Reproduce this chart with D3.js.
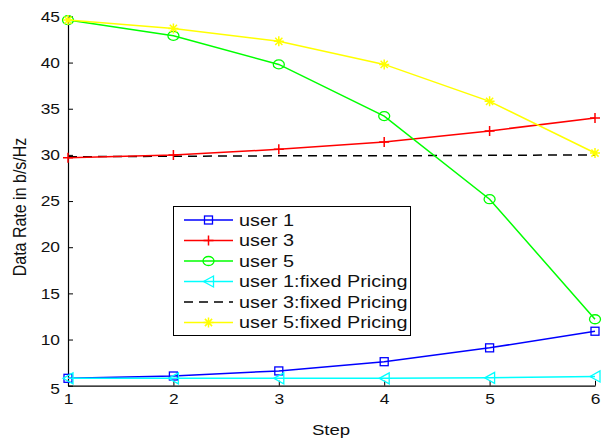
<!DOCTYPE html>
<html>
<head>
<meta charset="utf-8">
<script src="https://cdn.jsdelivr.net/npm/d3@7"></script>
<style>
body{margin:0;background:#fff;}
svg{display:block;font-family:"Liberation Sans",Arial,sans-serif;}
</style>
</head>
<body>
<svg id="chart" width="603" height="442"></svg>
<script>
const steps = [1, 2, 3, 4, 5, 6];
const user1 = [5.8, 6.05, 6.6, 7.6, 9.1, 10.9];
const user3 = [29.7, 30.0, 30.6, 31.4, 32.6, 34.0];
const user5 = [44.6, 42.9, 39.8, 34.2, 25.2, 12.2];
const user1Fixed = [5.8, 5.8, 5.8, 5.8, 5.85, 6.0];
const user3Fixed = [29.8, 29.85, 29.9, 29.9, 29.95, 30.0];
const user5Fixed = [44.6, 43.7, 42.3, 39.8, 35.8, 30.2];
const yTicks = [5, 10, 15, 20, 25, 30, 35, 40, 45];
const seriesNames = ["user 1", "user 3", "user 5", "user 1:fixed Pricing", "user 3:fixed Pricing", "user 5:fixed Pricing"];
const seriesColors = ["#0000ff", "#ff0000", "#00ff00", "#00ffff", "#000000", "#ffff00"];
const seriesMarkers = ["square", "plus", "circle", "triangleLeft", "none", "star"];
const seriesValues = [user1, user3, user5, user1Fixed, user3Fixed, user5Fixed];

const SX = 1.2; // horizontal stretch of glyphs seen in the reference

const svg = d3.select("#chart");
const x = d3.scaleLinear().domain([1, 6]).range([68, 595]);
const y = d3.scaleLinear().domain([5, 45]).range([385.7, 16.4]);

// axes
const xAxis = d3.axisBottom(x).tickValues(steps).tickFormat(d3.format("d")).tickSizeInner(-5).tickSizeOuter(0).tickPadding(6);
const yAxis = d3.axisLeft(y).tickValues(yTicks).tickFormat(d3.format("d")).tickSizeInner(-5).tickSizeOuter(0).tickPadding(8);

const gx = svg.append("g").attr("transform", "translate(0,385.7)").call(xAxis);
const gy = svg.append("g").attr("transform", "translate(68,0)").call(yAxis);
[gx, gy].forEach(g => {
  g.select(".domain").attr("stroke", "#000").attr("stroke-width", 1.2);
  g.selectAll(".tick line").attr("stroke", "#000").attr("stroke-width", 1);
  g.selectAll(".tick text").attr("font-size", 14.5).attr("fill", "#111").attr("font-family", "Liberation Sans, Arial, sans-serif");
});
gx.selectAll(".tick text").attr("dy", "0.85em").attr("transform", `scale(${SX},1)`);
gy.selectAll(".tick text").attr("transform", function() {
  const tx = +d3.select(this).attr("x");
  return `translate(${tx},0) scale(${SX},1) translate(${-tx},0)`;
});
gy.selectAll(".tick").filter(d => d === 5).select("text").attr("dy", "0.55em");

// labels
svg.append("text").attr("transform", `translate(331,435) scale(${SX},1)`).attr("text-anchor", "middle")
  .attr("font-size", 15.5).attr("fill", "#111").text("Step");
svg.append("text").attr("transform", `translate(26,207) rotate(-90) scale(1,${SX})`).attr("text-anchor", "middle")
  .attr("font-size", 16).attr("fill", "#111").text("Data Rate in b/s/Hz");

function drawMarker(g, type, color) {
  if (type === "square") {
    g.append("rect").attr("x", -4).attr("y", -4).attr("width", 8).attr("height", 8)
      .attr("fill", "none").attr("stroke", color).attr("stroke-width", 1.3);
  } else if (type === "plus") {
    g.append("path").attr("d", "M-5,0H5M0,-5V5").attr("stroke", color).attr("stroke-width", 1.5).attr("fill", "none");
  } else if (type === "circle") {
    g.append("ellipse").attr("rx", 5.5).attr("ry", 4.5).attr("fill", "none").attr("stroke", color).attr("stroke-width", 1.3);
  } else if (type === "triangleLeft") {
    g.append("path").attr("d", "M-5,0L5,-5.5L5,5.5Z").attr("fill", "none").attr("stroke", color).attr("stroke-width", 1.3);
  } else if (type === "star") {
    g.append("path").attr("d", "M-5,0H5M0,-5V5M-3.6,-3.6L3.6,3.6M-3.6,3.6L3.6,-3.6").attr("stroke", color).attr("stroke-width", 1.5).attr("fill", "none");
  }
}

const line = d3.line().x((d, i) => x(steps[i])).y(d => y(d));

const order = [0, 3, 4, 1, 2, 5];
order.forEach(k => {
  const g = svg.append("g");
  g.append("path").datum(seriesValues[k]).attr("d", line)
    .attr("fill", "none").attr("stroke", seriesColors[k]).attr("stroke-width", 1.5)
    .attr("stroke-dasharray", seriesMarkers[k] === "none" ? "9,6" : null);
  seriesValues[k].forEach((v, i) => {
    const m = g.append("g").attr("transform", `translate(${x(steps[i])},${y(v)})`);
    drawMarker(m, seriesMarkers[k], seriesColors[k]);
  });
});

// legend
const lg = svg.append("g");
lg.append("rect").attr("x", 173.5).attr("y", 206.5).attr("width", 237).attr("height", 129)
  .attr("fill", "#fff").attr("stroke", "#000").attr("stroke-width", 1);
seriesNames.forEach((name, k) => {
  const yy = 220 + k * 20.5;
  lg.append("line").attr("x1", 184).attr("x2", 233).attr("y1", yy).attr("y2", yy)
    .attr("stroke", seriesColors[k]).attr("stroke-width", 1.5)
    .attr("stroke-dasharray", seriesMarkers[k] === "none" ? "9,6" : null);
  const m = lg.append("g").attr("transform", `translate(208.5,${yy})`);
  drawMarker(m, seriesMarkers[k], seriesColors[k]);
  lg.append("text").attr("transform", `translate(239,${yy}) scale(1.24,1)`).attr("dy", "0.36em")
    .attr("font-size", 16).attr("fill", "#111").text(name);
});
</script>
</body>
</html>
